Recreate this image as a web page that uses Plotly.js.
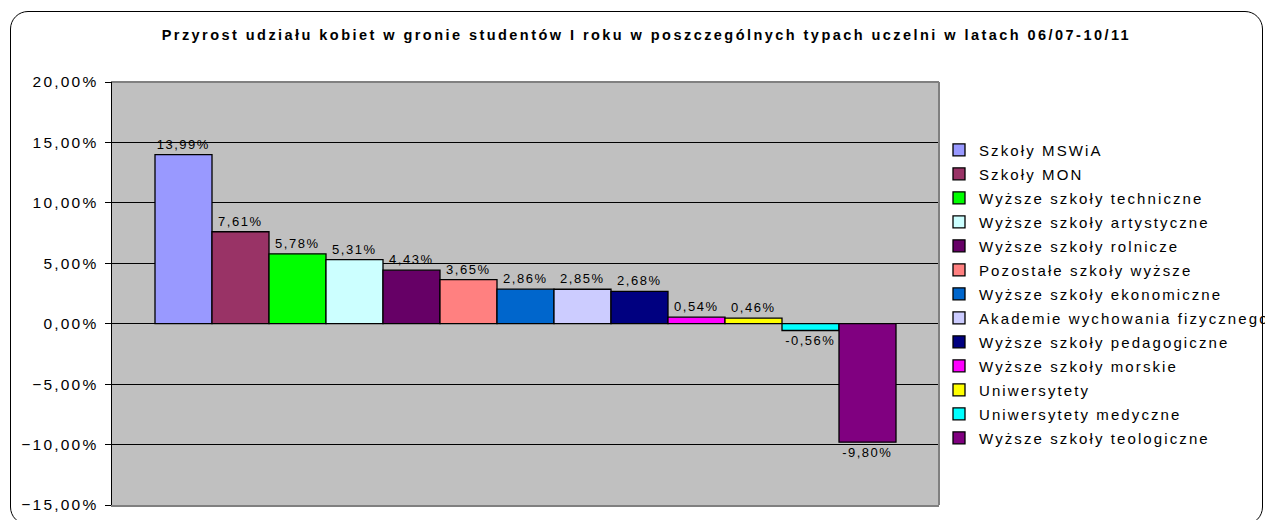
<!DOCTYPE html>
<html>
<head>
<meta charset="utf-8">
<script src="https://cdn.plot.ly/plotly-3.0.1.min.js"></script>
<style>
  html, body { margin: 0; padding: 0; background: #fff; }
  #wrap { position: relative; width: 1265px; height: 520px; overflow: hidden; }
  #chart { position: absolute; left: 0; top: 0; width: 1265px; height: 520px; }
  #frame { position: absolute; left: 10px; top: 11px; width: 1251px; height: 512px;
           border: 1px solid #000; border-radius: 18px; pointer-events: none; }
  #chart .ytick text { letter-spacing: 2.2px; }
  #chart .legendtext { letter-spacing: 2.1px; }
  #chart .gtitle { letter-spacing: 2.45px; }
  #chart .bartext { letter-spacing: 1.5px; }
  #chart .legend, #chart .legend .scrollbox, #chart .legend g { clip-path: none !important; }
</style>
</head>
<body>
<div id="wrap">
  <div id="chart"></div>
  <div id="frame"></div>
</div>
<script>
const titleText = 'Przyrost udziału kobiet w gronie studentów I roku w poszczególnych typach uczelni w latach 06/07-10/11';
const category = [''];
const seriesNames = [
  'Szkoły MSWiA',
  'Szkoły MON',
  'Wyższe szkoły techniczne',
  'Wyższe szkoły artystyczne',
  'Wyższe szkoły rolnicze',
  'Pozostałe szkoły wyższe',
  'Wyższe szkoły ekonomiczne',
  'Akademie wychowania fizycznego',
  'Wyższe szkoły pedagogiczne',
  'Wyższe szkoły morskie',
  'Uniwersytety',
  'Uniwersytety medyczne',
  'Wyższe szkoły teologiczne'
];
const seriesValues = [0.1399, 0.0761, 0.0578, 0.0531, 0.0443, 0.0365, 0.0286, 0.0285, 0.0268, 0.0054, 0.0046, -0.0056, -0.0980];
const seriesColors = ['#9999FF', '#993366', '#00FF00', '#CCFFFF', '#660066', '#FF8080', '#0066CC', '#CCCCFF', '#000080', '#FF00FF', '#FFFF00', '#00FFFF', '#800080'];
const yTickVals = [-0.15, -0.10, -0.05, 0, 0.05, 0.10, 0.15, 0.20];

const FONT = 'Liberation Sans, Arial, sans-serif';

const traces = seriesNames.map((name, i) => ({
  type: 'bar',
  name: name,
  x: category,
  y: [seriesValues[i]],
  legendgroup: 'g' + i,
  marker: { color: seriesColors[i], line: { color: '#000', width: 1.3 } },
  texttemplate: '%{y:.2%}',
  textposition: 'outside',
  constraintext: 'none',
  cliponaxis: false,
  outsidetextfont: { family: FONT, size: 13, color: '#000' },
  hoverinfo: 'name+y'
}));

const layout = {
  width: 1265,
  height: 520,
  paper_bgcolor: '#ffffff',
  plot_bgcolor: '#C0C0C0',
  separators: ', ',
  font: { family: FONT, color: '#000' },
  margin: { l: 112, r: 326, t: 82, b: 15, pad: 0 },
  title: {
    text: '<b>' + titleText + '</b>',
    font: { family: FONT, size: 14.5, color: '#000' },
    xref: 'container', x: 0.511, xanchor: 'center',
    yref: 'container', y: 1 - 35 / 520, yanchor: 'middle'
  },
  barmode: 'group',
  bargap: 0.104,
  bargroupgap: 0,
  showlegend: true,
  legend: {
    x: 1.0, xanchor: 'left',
    y: 0.878, yanchor: 'top',
    font: { family: FONT, size: 15, color: '#000' },
    traceorder: 'grouped',
    tracegroupgap: 1.5,
    bgcolor: 'rgba(0,0,0,0)',
    itemclick: false
  },
  xaxis: {
    type: 'category',
    showticklabels: false,
    ticks: '',
    showgrid: false,
    zeroline: false,
    showline: true,
    mirror: true,
    linecolor: '#808080',
    linewidth: 1.5
  },
  yaxis: {
    range: [-0.15, 0.20],
    tickvals: yTickVals,
    tickformat: '.2%',
    ticks: 'outside',
    ticklen: 6,
    tickcolor: '#000',
    ticklabelstandoff: 3,
    tickfont: { family: FONT, size: 15.5, color: '#000' },
    showgrid: true,
    gridcolor: '#000',
    gridwidth: 1,
    zeroline: true,
    zerolinecolor: '#000',
    zerolinewidth: 1,
    showline: true,
    linecolor: '#000',
    linewidth: 1.5,
    automargin: false
  },
  shapes: [
    { type: 'line', xref: 'paper', yref: 'paper', x0: 1, x1: 1, y0: 0, y1: 1,
      line: { color: '#808080', width: 2 } },
    { type: 'line', xref: 'paper', yref: 'paper', x0: 0, x1: 1, y0: 1, y1: 1,
      line: { color: '#808080', width: 2 } }
  ]
};

Plotly.newPlot('chart', traces, layout, { displayModeBar: false, staticPlot: true });
</script>
</body>
</html>
